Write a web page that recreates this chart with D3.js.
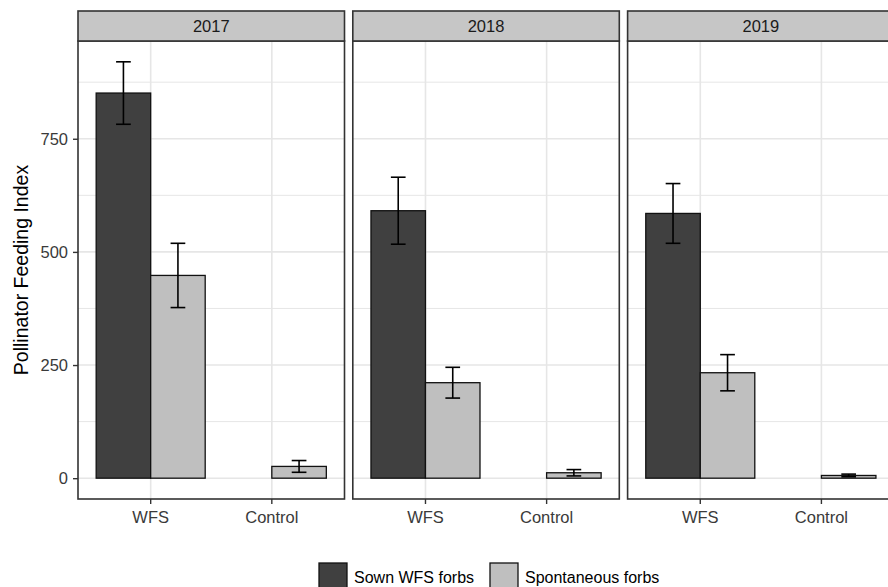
<!DOCTYPE html>
<html>
<head>
<meta charset="utf-8">
<script src="https://cdn.jsdelivr.net/npm/d3@7"></script>
<style>
  body { margin: 0; background: #fff; }
  svg { display: block; font-family: "Liberation Sans", Arial, sans-serif; }
</style>
</head>
<body>
<svg id="chart" width="888" height="587"></svg>
<script>
// Facets, x categories and fill groups
const years = ["2017", "2018", "2019"];
const treatments = ["WFS", "Control"];
const groups = ["Sown WFS forbs", "Spontaneous forbs"];

// Pollinator Feeding Index: mean and standard error, one value per year
const sownWFS = [851, 591, 585];
const sownWFSErr = [69, 74, 66];
const spontWFS = [448, 211, 233];
const spontWFSErr = [71, 34, 40];
const spontControl = [26, 12, 6];
const spontControlErr = [13, 7, 3];

const yTicks = [0, 250, 500, 750];
const yMinor = [125, 375, 625, 875];

const fills = { "Sown WFS forbs": "#404040", "Spontaneous forbs": "#bfbfbf" };

const rows = [];
years.forEach((yr, i) => {
  rows.push({ year: yr, treatment: "WFS", group: groups[0], mean: sownWFS[i], se: sownWFSErr[i] });
  rows.push({ year: yr, treatment: "WFS", group: groups[1], mean: spontWFS[i], se: spontWFSErr[i] });
  rows.push({ year: yr, treatment: "Control", group: groups[1], mean: spontControl[i], se: spontControlErr[i] });
});

const svg = d3.select("#chart");

// layout
const panelTop = 41, panelBottom = 499, stripTop = 11;
const panelLeft = 78, panelW = 266.5, gap = 8.3;

const facet = d3.scaleBand()
  .domain(years)
  .range([panelLeft, panelLeft + 3 * panelW + 2 * gap])
  .paddingInner(gap / (panelW + gap))
  .paddingOuter(0);

// y range expanded by 5% of the data span on both sides
const yMax = d3.max(rows, d => d.mean + d.se);
const pad = yMax * 0.05;
const y = d3.scaleLinear().domain([-pad, yMax + pad]).range([panelBottom, panelTop]);

const x = d3.scaleBand().domain(treatments).range([0, panelW]).paddingInner(0.1).paddingOuter(0.15);
const sub = d3.scaleBand().domain(groups).range([0, x.bandwidth()]).padding(0);

const borderCol = "#333333";
const gridCol = "#e6e6e6";
const tickTextCol = "#3a3a3a";

years.forEach(yr => {
  const g = svg.append("g").attr("transform", `translate(${facet(yr)},0)`);
  const w = facet.bandwidth();

  // panel background
  g.append("rect").attr("x", 0).attr("y", panelTop).attr("width", w).attr("height", panelBottom - panelTop).attr("fill", "#fff");

  // minor gridlines
  g.selectAll(".minor").data(yMinor.filter(v => y(v) > panelTop)).enter().append("line")
    .attr("x1", 0).attr("x2", w).attr("y1", d => y(d)).attr("y2", d => y(d))
    .attr("stroke", gridCol).attr("stroke-width", 1);
  // major gridlines
  g.selectAll(".major").data(yTicks).enter().append("line")
    .attr("x1", 0).attr("x2", w).attr("y1", d => y(d)).attr("y2", d => y(d))
    .attr("stroke", gridCol).attr("stroke-width", 1.6);
  g.selectAll(".vgrid").data(treatments).enter().append("line")
    .attr("x1", d => x(d) + x.bandwidth() / 2).attr("x2", d => x(d) + x.bandwidth() / 2)
    .attr("y1", panelTop).attr("y2", panelBottom)
    .attr("stroke", gridCol).attr("stroke-width", 1.6);

  const data = rows.filter(r => r.year === yr);

  // bars
  g.selectAll(".bar").data(data).enter().append("rect")
    .attr("x", d => x(d.treatment) + sub(d.group))
    .attr("width", sub.bandwidth())
    .attr("y", d => y(d.mean))
    .attr("height", d => y(0) - y(d.mean))
    .attr("fill", d => fills[d.group])
    .attr("stroke", "#111").attr("stroke-width", 1.3);

  // error bars
  const capHalf = sub.bandwidth() * 0.135;
  const eb = g.selectAll(".eb").data(data).enter().append("g")
    .attr("transform", d => `translate(${x(d.treatment) + sub(d.group) + sub.bandwidth() / 2},0)`)
    .attr("stroke", "#000").attr("stroke-width", 1.6);
  eb.append("line").attr("x1", 0).attr("x2", 0).attr("y1", d => y(d.mean + d.se)).attr("y2", d => y(d.mean - d.se));
  eb.append("line").attr("x1", -capHalf).attr("x2", capHalf).attr("y1", d => y(d.mean + d.se)).attr("y2", d => y(d.mean + d.se));
  eb.append("line").attr("x1", -capHalf).attr("x2", capHalf).attr("y1", d => y(d.mean - d.se)).attr("y2", d => y(d.mean - d.se));

  // panel border
  g.append("rect").attr("x", 0).attr("y", panelTop).attr("width", w).attr("height", panelBottom - panelTop)
    .attr("fill", "none").attr("stroke", borderCol).attr("stroke-width", 1.6);

  // strip
  g.append("rect").attr("x", 0).attr("y", stripTop).attr("width", w).attr("height", panelTop - stripTop)
    .attr("fill", "#c6c6c6").attr("stroke", borderCol).attr("stroke-width", 1.6);
  g.append("text").attr("x", w / 2).attr("y", (stripTop + panelTop) / 2).attr("dy", "0.36em")
    .attr("text-anchor", "middle").attr("font-size", 16.5).attr("fill", "#1a1a1a").text(yr);

  // x axis
  const xAxis = d3.axisBottom(x).tickSize(5).tickPadding(4);
  const xa = g.append("g").attr("transform", `translate(0,${panelBottom})`).call(xAxis);
  xa.select(".domain").remove();
  xa.selectAll(".tick line").attr("stroke", borderCol).attr("stroke-width", 1.4);
  xa.selectAll(".tick text").attr("font-size", 16.5).attr("fill", tickTextCol)
    .attr("font-family", "\"Liberation Sans\", Arial, sans-serif").attr("dy", "0.9em");
});

// y axis on the first panel
const yAxis = d3.axisLeft(y).tickValues(yTicks).tickSize(5).tickPadding(5).tickFormat(d3.format("d"));
const ya = svg.append("g").attr("transform", `translate(${panelLeft},0)`).call(yAxis);
ya.select(".domain").remove();
ya.selectAll(".tick line").attr("stroke", borderCol).attr("stroke-width", 1.4);
ya.selectAll(".tick text").attr("font-size", 16.5).attr("fill", tickTextCol)
  .attr("font-family", "\"Liberation Sans\", Arial, sans-serif");

// y axis title
svg.append("text")
  .attr("transform", `translate(28,${(panelTop + panelBottom) / 2}) rotate(-90)`)
  .attr("text-anchor", "middle").attr("font-size", 19.5).attr("fill", "#000")
  .text("Pollinator Feeding Index");

// legend
const legendX = [319, 490];
const legend = svg.append("g");
groups.forEach((grp, i) => {
  legend.append("rect").attr("x", legendX[i]).attr("y", 563).attr("width", 28).attr("height", 28)
    .attr("fill", fills[grp]).attr("stroke", "#111").attr("stroke-width", 1.3);
  legend.append("text").attr("x", legendX[i] + 35).attr("y", 583)
    .attr("font-size", 16).attr("fill", "#000").text(grp);
});
</script>
</body>
</html>
